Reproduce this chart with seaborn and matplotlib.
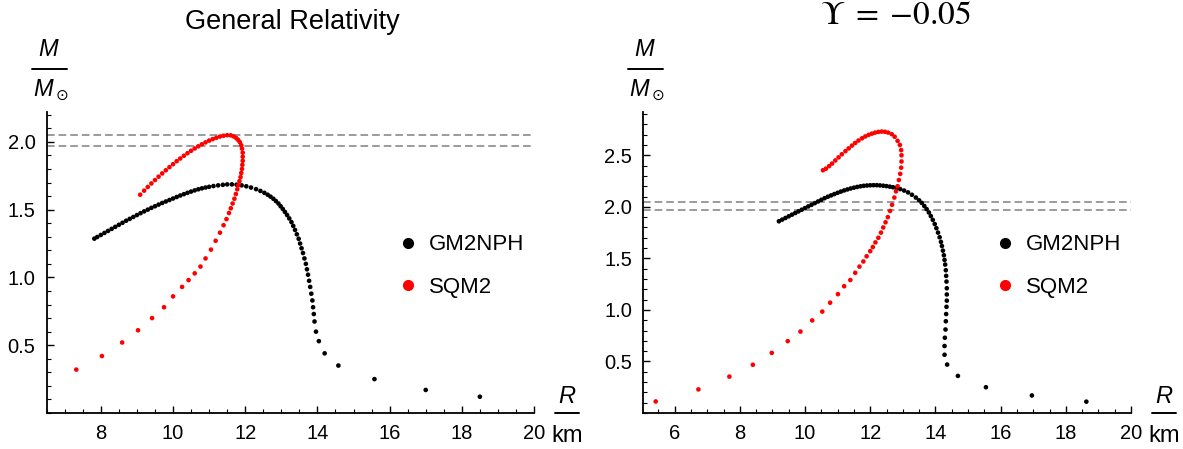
import matplotlib
matplotlib.use('Agg')
import matplotlib.pyplot as plt
import seaborn as sns
import pandas as pd
from matplotlib.lines import Line2D
from matplotlib.ticker import MultipleLocator, FixedLocator

# ---- data (R in km, M in solar masses) ----
# General Relativity
gr_gm2nph_R = [7.82, 7.9, 8.0, 8.1, 8.2, 8.3, 8.4, 8.5, 8.6, 8.7, 8.8, 8.9, 9.0, 9.1, 9.2, 9.3, 9.4,
               9.5, 9.6, 9.7, 9.8, 9.9, 10.0, 10.1, 10.2, 10.3, 10.4, 10.5, 10.6, 10.7, 10.8, 10.9,
               11.0, 11.12, 11.25, 11.38, 11.5, 11.63, 11.76, 11.9, 12.03, 12.16, 12.3, 12.42,
               12.53, 12.62, 12.7, 12.78, 12.85, 12.92, 12.98, 13.04, 13.1, 13.16, 13.22, 13.28,
               13.33, 13.38, 13.43, 13.48, 13.52, 13.56, 13.6, 13.64, 13.68, 13.71, 13.74, 13.77,
               13.8, 13.83, 13.86, 13.88, 13.9, 13.92, 13.96, 14.04, 14.2, 14.58, 15.58, 17.0, 18.5]
gr_gm2nph_M = [1.286, 1.298, 1.313, 1.328, 1.343, 1.358, 1.373, 1.388, 1.403, 1.418, 1.432, 1.446,
               1.46, 1.474, 1.487, 1.50, 1.513, 1.525, 1.537, 1.549, 1.56, 1.571, 1.582, 1.593,
               1.604, 1.614, 1.624, 1.633, 1.642, 1.65, 1.657, 1.663, 1.668, 1.674, 1.679, 1.683,
               1.686, 1.686, 1.684, 1.679, 1.672, 1.663, 1.651, 1.638, 1.624, 1.61, 1.596, 1.58,
               1.563, 1.545, 1.525, 1.505, 1.483, 1.46, 1.435, 1.408, 1.38, 1.35, 1.318, 1.285,
               1.25, 1.215, 1.18, 1.14, 1.10, 1.06, 1.02, 0.975, 0.93, 0.88, 0.83, 0.78, 0.73,
               0.675, 0.60, 0.53, 0.44, 0.35, 0.25, 0.17, 0.12]

gr_sqm2_R = [9.09, 9.2, 9.3, 9.4, 9.5, 9.6, 9.7, 9.8, 9.9, 10.0, 10.1, 10.2, 10.3, 10.4, 10.5, 10.6,
             10.7, 10.8, 10.9, 11.0, 11.1, 11.2, 11.3, 11.4, 11.5, 11.6, 11.68, 11.75, 11.8, 11.85,
             11.89, 11.91, 11.93, 11.93, 11.93, 11.92, 11.91, 11.89, 11.87, 11.84, 11.81, 11.78,
             11.74, 11.7, 11.65, 11.6, 11.55, 11.48, 11.4, 11.3, 11.18, 11.05, 10.9, 10.76, 10.6,
             10.43, 10.25, 10.0, 9.75, 9.42, 9.03, 8.59, 8.03, 7.32]
gr_sqm2_M = [1.61, 1.64, 1.667, 1.693, 1.718, 1.743, 1.767, 1.79, 1.813, 1.835, 1.857, 1.877,
             1.897, 1.916, 1.934, 1.951, 1.967, 1.982, 1.996, 2.009, 2.02, 2.03, 2.039, 2.045,
             2.049, 2.048, 2.04, 2.028, 2.015, 1.998, 1.975, 1.95, 1.92, 1.89, 1.86, 1.83, 1.80,
             1.77, 1.74, 1.71, 1.68, 1.65, 1.615, 1.58, 1.545, 1.51, 1.475, 1.43, 1.385, 1.33,
             1.27, 1.205, 1.14, 1.08, 1.03, 0.98, 0.93, 0.86, 0.78, 0.70, 0.61, 0.52, 0.42, 0.32]

# Upsilon = -0.05
ups_gm2nph_R = [9.2, 9.3, 9.4, 9.5, 9.6, 9.7, 9.8, 9.9, 10.0, 10.1, 10.2, 10.3, 10.4, 10.5, 10.6,
                10.7, 10.8, 10.9, 11.0, 11.1, 11.2, 11.3, 11.4, 11.5, 11.6, 11.7, 11.8, 11.9, 12.0,
                12.1, 12.2, 12.3, 12.4, 12.5, 12.6, 12.7, 12.8, 12.92, 13.04, 13.16, 13.28, 13.4,
                13.5, 13.58, 13.66, 13.73, 13.8, 13.86, 13.92, 13.98, 14.03, 14.08, 14.13, 14.17,
                14.2, 14.23, 14.26, 14.28, 14.3, 14.32, 14.33, 14.34, 14.35, 14.35, 14.35, 14.34,
                14.33, 14.32, 14.31, 14.29, 14.28, 14.28, 14.36, 14.69, 15.55, 16.96, 18.63]
ups_gm2nph_M = [1.86, 1.876, 1.892, 1.908, 1.924, 1.94, 1.956, 1.972, 1.988, 2.004, 2.02, 2.036,
                2.052, 2.068, 2.084, 2.098, 2.111, 2.124, 2.136, 2.148, 2.159, 2.169, 2.178,
                2.186, 2.193, 2.199, 2.204, 2.207, 2.209, 2.21, 2.21, 2.208, 2.205, 2.201, 2.196,
                2.19, 2.183, 2.172, 2.158, 2.14, 2.117, 2.09, 2.063, 2.038, 2.008, 1.978, 1.945,
                1.91, 1.873, 1.833, 1.793, 1.75, 1.705, 1.66, 1.62, 1.575, 1.53, 1.485, 1.44,
                1.385, 1.33, 1.275, 1.21, 1.15, 1.09, 1.03, 0.96, 0.89, 0.81, 0.73, 0.65, 0.565,
                0.47, 0.36, 0.25, 0.17, 0.11]

ups_sqm2_R = [5.42, 6.73, 7.68, 8.40, 8.98, 9.47, 9.86, 10.22, 10.53, 10.77, 11.01, 11.2, 11.39,
              11.54, 11.67, 11.79, 11.89, 12.0, 12.08, 12.16, 12.25, 12.33, 12.4, 12.47, 12.54,
              12.61, 12.67, 12.74, 12.79, 12.84, 12.88, 12.92, 12.95, 12.96, 12.96, 12.95, 12.91,
              12.84, 12.75, 12.66, 12.55, 12.45, 12.35, 12.25, 12.15, 12.05, 11.95, 11.85, 11.75,
              11.64, 11.54, 11.44, 11.34, 11.24, 11.13, 11.03, 10.93, 10.83, 10.74, 10.64, 10.55]
ups_sqm2_M = [0.112, 0.229, 0.353, 0.468, 0.583, 0.697, 0.79, 0.898, 0.984, 1.07, 1.153, 1.23,
              1.29, 1.36, 1.42, 1.47, 1.52, 1.57, 1.61, 1.655, 1.70, 1.75, 1.80, 1.85, 1.90, 1.96,
              2.02, 2.09, 2.15, 2.2, 2.26, 2.32, 2.38, 2.44, 2.50, 2.55, 2.6, 2.64, 2.68, 2.705,
              2.72, 2.728, 2.73, 2.727, 2.72, 2.71, 2.698, 2.683, 2.665, 2.643, 2.62, 2.594,
              2.567, 2.54, 2.51, 2.48, 2.45, 2.42, 2.395, 2.37, 2.355]

eos_names = ['GM2NPH', 'SQM2']
eos_colors = {'GM2NPH': 'black', 'SQM2': 'red'}
band = [1.97, 2.05]   # observational mass band (dashed lines)


def make_df(r1, m1, r2, m2):
    return pd.concat([
        pd.DataFrame({'R': r1, 'M': m1, 'EoS': eos_names[0]}),
        pd.DataFrame({'R': r2, 'M': m2, 'EoS': eos_names[1]}),
    ], ignore_index=True)


df_gr = make_df(gr_gm2nph_R, gr_gm2nph_M, gr_sqm2_R, gr_sqm2_M)
df_ups = make_df(ups_gm2nph_R, ups_gm2nph_M, ups_sqm2_R, ups_sqm2_M)

sns.set_style('white')
plt.rcParams['font.family'] = ['Liberation Sans', 'DejaVu Sans']
plt.rcParams['mathtext.fontset'] = 'custom'
plt.rcParams['mathtext.it'] = 'Liberation Sans:italic'
plt.rcParams['mathtext.rm'] = 'Liberation Sans'
plt.rcParams['text.color'] = 'black'
plt.rcParams['xtick.color'] = 'black'
plt.rcParams['ytick.color'] = 'black'

W, H = 1183, 449
fig = plt.figure(figsize=(W / 100, H / 100), dpi=100)


def fx(px):
    return px / W


def fy(py):
    return 1 - py / H


def panel(ax, df, xlim, ylim, xmajor, ymajor):
    sns.scatterplot(data=df, x='R', y='M', hue='EoS', palette=eos_colors, s=11,
                    linewidth=0, legend=False, ax=ax, zorder=3)
    for b in band:
        ax.axhline(b, color='#808080', lw=1.1, ls=(0, (5, 2.6)), zorder=2)
    ax.set_xlim(*xlim)
    ax.set_ylim(*ylim)
    ax.set_xlabel('')
    ax.set_ylabel('')
    for s in ['top', 'right']:
        ax.spines[s].set_visible(False)
    for s in ['left', 'bottom']:
        ax.spines[s].set_linewidth(1.3)
        ax.spines[s].set_color('black')
    ax.xaxis.set_major_locator(FixedLocator(xmajor))
    ax.xaxis.set_minor_locator(MultipleLocator(0.5))
    ax.yaxis.set_major_locator(FixedLocator(ymajor))
    ax.yaxis.set_minor_locator(MultipleLocator(0.1))
    ax.set_xticklabels([str(v) for v in xmajor])
    ax.set_yticklabels([f'{v:.1f}' for v in ymajor])
    ax.tick_params(which='major', direction='in', length=5, width=1.0, labelsize=14.5,
                   colors='black', labelcolor='black', left=True, bottom=True, pad=8)
    ax.tick_params(which='minor', direction='in', length=3, width=0.8, left=True, bottom=True)
    handles = [Line2D([], [], marker='o', ls='', color=eos_colors[n], markersize=7, label=n)
               for n in eos_names]
    return handles


axes_y0 = 1 - 413 / H
axes_h = (413 - 112) / H
ax1 = fig.add_axes([fx(46.7), axes_y0, fx(487.3), axes_h])
ax2 = fig.add_axes([fx(643), axes_y0, fx(488), axes_h])

h1 = panel(ax1, df_gr, (6.5, 20), (0, 2.22), [8, 10, 12, 14, 16, 18, 20], [0.5, 1.0, 1.5, 2.0])
h2 = panel(ax2, df_ups, (5.03, 20), (0, 2.92), [6, 8, 10, 12, 14, 16, 18, 20],
           [0.5, 1.0, 1.5, 2.0, 2.5])

for ax, h, lx in [(ax1, h1, 385.7), (ax2, h2, 982.3)]:
    leg = ax.legend(handles=h, loc='center left', bbox_to_anchor=(fx(lx), fy(266)),
                    bbox_transform=fig.transFigure, frameon=False, fontsize=16, borderpad=0,
                    handlelength=1.0, handletextpad=0.45, labelspacing=0.95)
    for t in leg.get_texts():
        t.set_color('black')

# titles
fig.text(fx(292), fy(29), 'General Relativity', ha='center', va='baseline', fontsize=19.5)
fig.text(fx(896), fy(24), r'$\Upsilon\;=\;{-0.05}$', ha='center', va='baseline', fontsize=24,
         math_fontfamily='stix')

# axis labels drawn as Mathematica-style fractions
for axis_left, axis_right in [(46.7, 534), (643, 1131)]:
    cx = axis_left + 2
    fig.text(fx(cx), fy(50), r'$M$', ha='center', va='center', fontsize=17)
    fig.add_artist(Line2D([fx(cx - 17), fx(cx + 18)], [fy(69), fy(69)], color='black', lw=1.4))
    fig.text(fx(cx - 5), fy(90), r'$M$', ha='center', va='center', fontsize=17)
    fig.text(fx(cx + 13), fy(95), '\u2299', ha='center', va='center', fontsize=11,
             family='DejaVu Sans')
    rx = axis_right + 33
    fig.text(fx(rx), fy(397), r'$R$', ha='center', va='center', fontsize=17)
    fig.add_artist(Line2D([fx(rx - 12), fx(rx + 12)], [fy(413), fy(413)], color='black', lw=1.4))
    fig.text(fx(rx), fy(436), 'km', ha='center', va='center', fontsize=17)

fig.savefig('out.png', dpi=100)
